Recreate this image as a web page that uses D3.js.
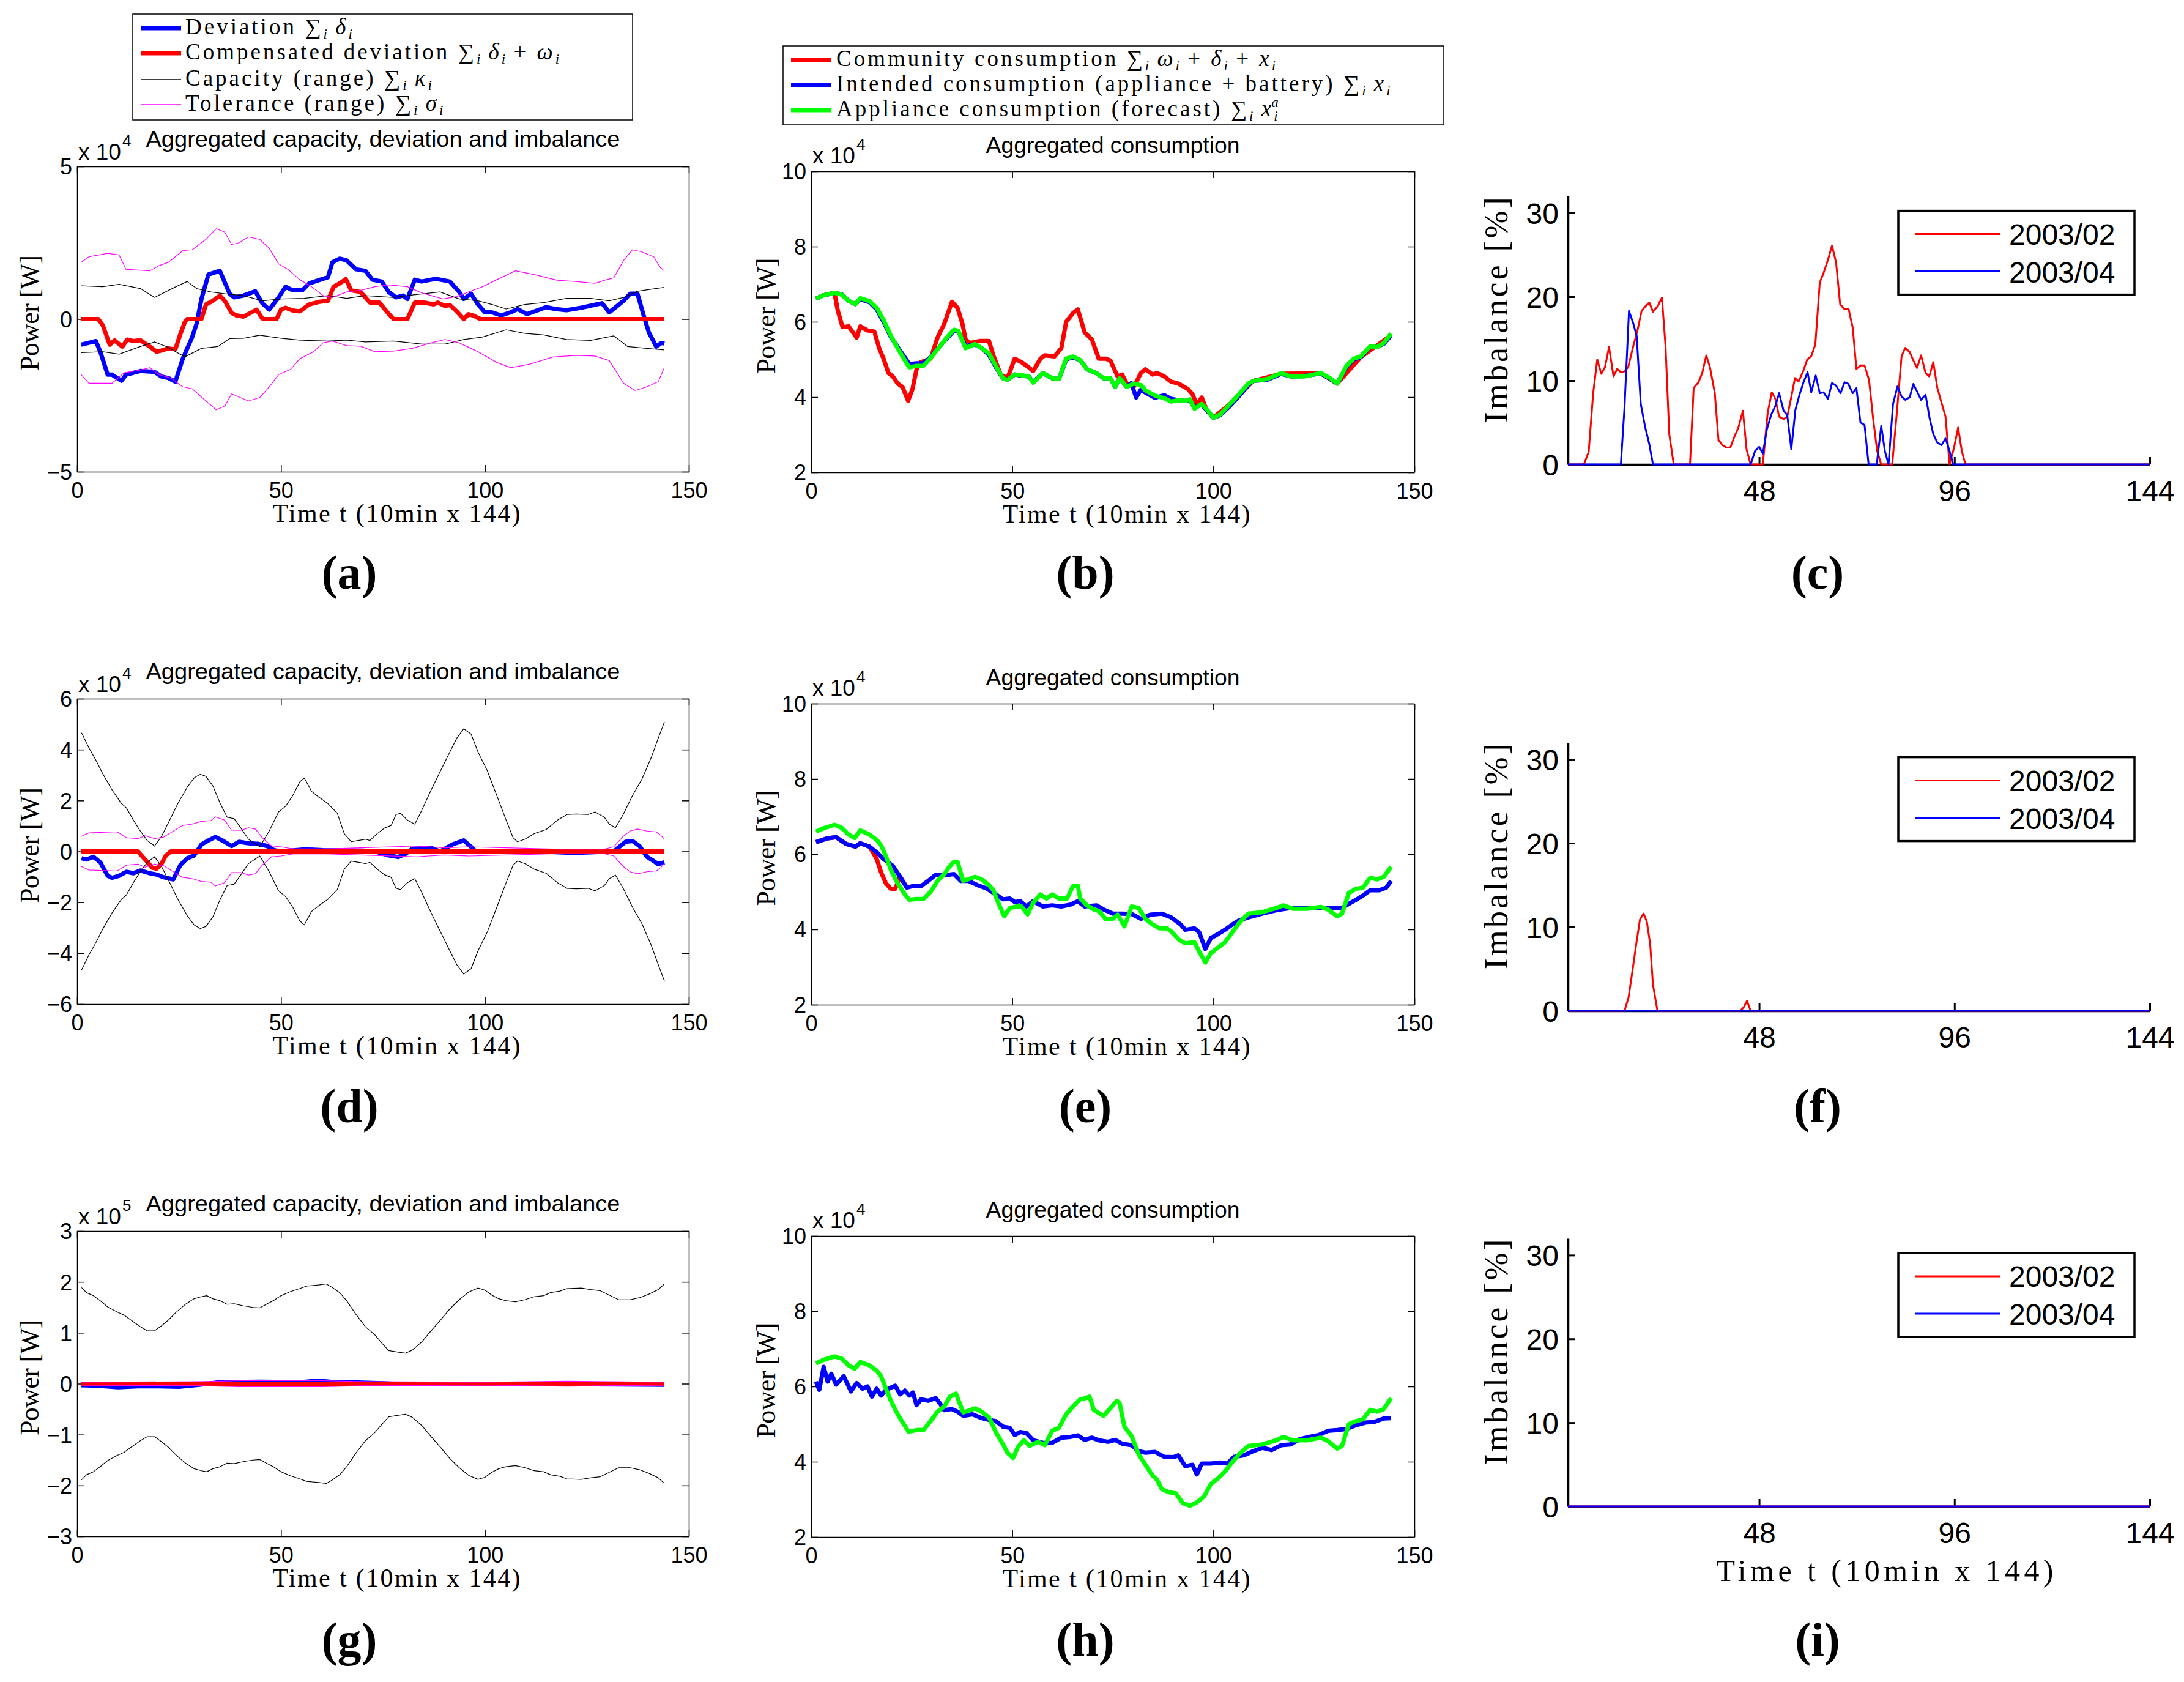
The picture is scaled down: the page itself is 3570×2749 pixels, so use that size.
<!DOCTYPE html>
<html>
<head>
<meta charset="utf-8">
<script src="https://cdn.jsdelivr.net/npm/d3@7"></script>
<style>
  body { margin: 0; background: #fff; }
</style>
</head>
<body>
<div id="chart"></div>
<script>
/**
 * DATA  (time step t, value)
 * panels a/d/g and b/e/h in units of the axis multiplier (x 10^4 or x 10^5 W)
 * panels c/f/i in percent
 * */
const devA = [[1,-0.84],[4.6,-0.72],[5.7,-1.07],[7.5,-1.82],[8.6,-1.82],[9.8,-1.93],[10.9,-2.02],[12,-1.82],[15.5,-1.70],[19,-1.73],[20.7,-1.88],[22.4,-1.93],[24.1,-2.05],[25.9,-1.3],[28.2,-0.6],[29.3,-0.15],[30.5,0.66],[32.2,1.46],[35,1.58],[37.4,0.83],[38.5,0.71],[40.8,0.77],[43.7,0.91],[45.4,0.52],[47.1,0.31],[49.4,0.71],[51.1,1.06],[52.9,0.94],[55.2,0.94],[56.9,1.17],[59.2,1.27],[61.5,1.37],[62.6,1.86],[64.4,1.98],[66.1,1.92],[68.4,1.63],[70.7,1.58],[72.4,1.29],[74.7,1.23],[76.4,0.89],[78.2,0.71],[79.9,0.77],[81,0.66],[82.8,1.29],[84.5,1.23],[87.9,1.32],[91.4,1.23],[93.7,0.89],[94.8,0.66],[96.6,0.83],[98.3,0.48],[100,0.22],[101.7,0.22],[104,0.12],[106.3,0.22],[108,0.33],[110.3,0.16],[115,0.39],[117.2,0.33],[120,0.29],[123.6,0.37],[128.7,0.52],[130.5,0.22],[134,0.6],[135.6,0.83],[137.4,0.83],[139,0.08],[140.2,-0.44],[142,-0.9],[143.3,-0.78],[144,-0.8]];
const compA = [[1,0],[5.2,0],[6.3,-0.2],[8,-0.84],[9.2,-0.7],[11.1,-0.9],[12.3,-0.67],[13.8,-0.72],[15.5,-0.69],[17.8,-0.9],[19.5,-1.07],[20.7,-1.03],[22.4,-0.96],[24.1,-0.99],[25.3,-0.5],[26.4,-0.1],[27,0],[30.5,0],[31.6,0.48],[33.3,0.6],[35,0.77],[36.2,0.6],[37.9,0.2],[39.1,0.12],[40.8,0.08],[42.5,0.2],[44,0.31],[45.4,0.02],[45.9,0],[48.9,0],[50,0.31],[51.1,0.37],[52.9,0.28],[54.6,0.25],[56.9,0.48],[59.2,0.56],[61.5,0.6],[62.9,1.06],[64.4,1.17],[65.9,1.31],[67.2,0.94],[69.5,0.89],[71.8,0.54],[74.1,0.54],[75.9,0.25],[77.6,0],[81,0],[82.8,0.54],[85.1,0.54],[87.4,0.48],[88.5,0.54],[90.2,0.43],[91.4,0.46],[93.1,0.25],[94.8,0],[96,0.16],[97.1,0.12],[98.9,0],[144,0]];
const capAUp = [[1,1.09],[6.3,1.06],[10.3,1.14],[15.5,1.0],[19,0.71],[22.4,0.94],[24.7,1.09],[27,1.23],[29.3,1.0],[32.8,0.89],[36.2,0.83],[40.8,0.77],[45.4,0.6],[50,0.66],[55.7,0.68],[61.5,0.77],[66.1,0.68],[70.7,0.77],[77.6,0.71],[82.2,0.79],[89,0.89],[93.7,0.66],[98.3,0.6],[101.7,0.48],[105.2,0.33],[109.8,0.48],[114.4,0.54],[120,0.68],[125.9,0.68],[130.5,0.6],[134,0.71],[137.4,0.91],[140.8,0.98],[144,1.04]];
const capALo = [[1,-1.1],[6.3,-1.07],[10.3,-1.15],[15.5,-0.9],[19,-0.75],[22.4,-0.93],[26.4,-1.24],[30.5,-0.96],[34.5,-0.9],[37.4,-0.64],[40.8,-0.63],[44.8,-0.53],[50,-0.63],[54.6,-0.69],[61.5,-0.72],[66.1,-0.69],[70.7,-0.75],[77.6,-0.72],[84.5,-0.82],[90.2,-0.82],[94.8,-0.67],[99.4,-0.59],[105.2,-0.35],[109.8,-0.47],[114.4,-0.52],[120,-0.67],[125.9,-0.7],[131.6,-0.55],[135,-0.9],[139.7,-0.96],[144,-1.01]];
const tolAUp = [[1,1.86],[2.9,2.04],[7.5,2.15],[10.3,2.1],[12,1.63],[17.8,1.58],[20.1,1.75],[22.4,1.86],[25.9,2.24],[28.2,2.27],[31.6,2.61],[34.1,2.96],[36.2,2.85],[37.9,2.44],[39.7,2.5],[42,2.69],[44.8,2.61],[47.1,2.32],[49.4,1.81],[51.7,1.63],[54.6,1.29],[57.5,1.06],[60.3,0.77],[62.6,0.71],[66.1,0.89],[69.5,0.94],[73,1.06],[76.4,1.12],[81,1.06],[84.5,0.86],[89.7,0.66],[93.1,0.74],[96,0.89],[99.4,1.06],[102.9,1.29],[107.5,1.58],[112,1.46],[117.8,1.27],[122.4,1.23],[127,1.17],[129.3,1.27],[131.6,1.35],[134,1.92],[136.2,2.27],[138.5,2.2],[141.4,2.04],[143,1.69],[144,1.58]];
const tolALo = [[1,-1.82],[2.9,-2.1],[8.6,-2.1],[11.5,-1.76],[15.5,-1.67],[17.8,-1.59],[20.1,-1.82],[23,-1.93],[25.9,-2.22],[28.2,-2.28],[31.6,-2.68],[34.1,-2.97],[36.2,-2.85],[37.9,-2.45],[42,-2.68],[44.8,-2.57],[47.1,-2.22],[49.4,-1.82],[52.3,-1.65],[54.6,-1.3],[58,-1.07],[60.3,-0.78],[62.6,-0.72],[66.1,-0.87],[69.5,-0.89],[73,-1.07],[77.6,-1.05],[82.2,-0.96],[86.8,-0.78],[90.2,-0.67],[93.7,-0.78],[98.3,-1.07],[102.9,-1.42],[106.3,-1.59],[110.9,-1.48],[116.7,-1.24],[122.4,-1.19],[127,-1.21],[130.5,-1.36],[134,-2.1],[136.8,-2.34],[139.7,-2.22],[142.5,-2.05],[144,-1.59]];

const devD = [[1.1,-0.27],[2.3,-0.32],[4,-0.21],[5.7,-0.43],[7.5,-0.96],[8.6,-1.04],[10.3,-0.96],[12.1,-0.8],[13.8,-0.86],[15.5,-0.75],[17.8,-0.86],[19.5,-0.91],[21.3,-1.02],[23.6,-1.1],[25.3,-0.54],[27,-0.27],[28.7,-0.16],[30.5,0.27],[32.2,0.43],[33.9,0.57],[35.6,0.43],[37.9,0.21],[39.7,0.38],[42,0.32],[44.3,0.3],[46.6,0.21],[48.3,0.05],[50,0],[55.7,0.08],[60.3,0.05],[70,0.03],[73,0],[76.4,-0.16],[78.7,-0.22],[80.5,-0.1],[82.2,0.1],[86.8,0.14],[89,0],[92,0.27],[94.8,0.43],[96.6,0.18],[97.7,0],[110,0.02],[120,-0.05],[124,-0.05],[131.6,0],[132.8,0.16],[134.5,0.38],[136.2,0.41],[137.9,0.21],[139.7,-0.21],[141.4,-0.38],[142.5,-0.5],[144,-0.43]];
const compD = [[1,0],[14.9,0],[16.7,-0.32],[18.4,-0.64],[19.5,-0.68],[20.7,-0.48],[21.8,-0.16],[23,0],[144,0]];
// capacity and tolerance ranges are symmetric (+/-) in d and g
const capD = [[1.1,4.66],[2.9,4.07],[4.6,3.59],[6.3,3.05],[8.6,2.41],[10.9,1.88],[12.1,1.71],[13.8,1.23],[15.5,0.8],[17.2,0.43],[19,0.21],[20.7,0.59],[22.4,1.13],[24.7,1.88],[27,2.52],[28.7,2.89],[30.2,3.03],[31.6,2.95],[33.3,2.57],[35.1,1.88],[36.8,1.34],[38.5,1.29],[40.2,0.91],[42,0.48],[44.8,0.18],[47.1,0.8],[49.4,1.55],[51.1,1.77],[52.9,2.2],[54.6,2.73],[55.7,2.89],[57.5,2.36],[59.2,2.14],[61.5,1.88],[63.8,1.5],[65.5,0.7],[67.2,0.38],[69,0.43],[70.7,0.48],[71.8,0.43],[73.6,0.7],[75.3,0.91],[77,1.02],[78.2,1.45],[79.3,1.5],[81,1.23],[82.8,1.07],[84.5,1.61],[86.8,2.41],[89.1,3.16],[91.4,3.91],[93.1,4.45],[94.8,4.82],[96.6,4.61],[98.3,3.91],[100.6,3.16],[102.9,2.2],[105.2,1.23],[106.9,0.54],[108,0.38],[109.8,0.48],[112.1,0.7],[115,0.86],[117.8,1.23],[120.1,1.45],[122.4,1.47],[125.3,1.45],[127,1.55],[129.3,1.34],[130.5,1.07],[132,0.93],[133.9,1.45],[136.2,2.2],[138.5,2.84],[140.8,3.7],[142.5,4.45],[144,5.09]];
const tolD = [[1,0.59],[2.9,0.73],[9.8,0.77],[12.1,0.54],[14.9,0.5],[16.7,0.62],[19,0.5],[21.3,0.57],[23.6,0.8],[25.9,1.02],[28.2,1.07],[30.5,1.18],[32.8,1.21],[33.9,1.36],[36.2,1.23],[37.9,0.83],[40.2,0.83],[42,0.93],[43.7,0.88],[45.4,0.54],[47.7,0.21],[50,0.18],[52.9,0.1],[61.5,0.1],[73,0.16],[83.3,0.21],[90,0.14],[96,0.18],[105.2,0.14],[118,0.09],[129.3,0.09],[131.6,0.18],[133.9,0.59],[135.6,0.8],[137.4,0.88],[139.7,0.8],[142,0.77],[143.1,0.64],[144,0.48]];

const devG = [[1,-0.03],[5,-0.04],[10,-0.07],[15,-0.05],[20,-0.05],[25,-0.06],[30,-0.02],[35,0.03],[45,0.04],[55,0.03],[59,0.06],[62,0.04],[70,0.02],[75,0.01],[80,-0.01],[90,0],[100,0],[144,-0.02]];
const compG = [[1,0],[144,0]];
const capG = [[1.1,1.89],[2.3,1.79],[4,1.73],[5.7,1.63],[7.5,1.51],[9.8,1.41],[11.5,1.35],[13.2,1.25],[15.5,1.12],[17.2,1.04],[19,1.04],[20.7,1.14],[22.4,1.25],[24.1,1.39],[26.4,1.55],[28.7,1.67],[30.5,1.71],[31.8,1.73],[33.3,1.67],[35.1,1.63],[36.8,1.56],[38.5,1.57],[40.8,1.53],[43.1,1.5],[44.8,1.49],[46.6,1.57],[48.3,1.64],[50,1.73],[52.3,1.81],[54.6,1.87],[56.3,1.92],[59.2,1.94],[61.1,1.96],[62.6,1.89],[64.4,1.79],[66.1,1.63],[68.4,1.36],[70.7,1.12],[73,0.96],[74.7,0.8],[76.4,0.65],[78.7,0.62],[80.5,0.6],[82.2,0.66],[84.5,0.82],[86.8,1.04],[89.1,1.25],[91.4,1.47],[93.7,1.65],[96,1.8],[98.3,1.88],[100,1.84],[101.7,1.74],[103.4,1.67],[105.2,1.63],[107.5,1.61],[109.8,1.65],[112.1,1.71],[114.4,1.73],[116.1,1.79],[118.4,1.82],[120.1,1.87],[123.6,1.88],[125.9,1.85],[128.2,1.83],[130.5,1.74],[132.8,1.65],[135.6,1.65],[137.9,1.69],[140.2,1.76],[142.5,1.85],[144,1.96]];
const tolG = [[1,0.03],[30,0.04],[40,0.06],[60,0.06],[70,0.04],[100,0.03],[120,0.05],[130,0.04],[144,0.03]];

const redB = [[1.2,6.61],[2.9,6.7],[5.8,6.77],[6.6,6.3],[7.8,5.86],[9.3,5.88],[11.3,5.58],[12.2,5.88],[14,5.77],[15.7,5.74],[16.9,5.3],[18,5.02],[19.2,4.64],[20.3,4.55],[21.5,4.36],[22.7,4.27],[24.1,3.9],[25.2,4.22],[26.2,4.74],[27.3,4.93],[29.7,5.02],[31.4,5.58],[33.1,5.95],[35,6.53],[36.4,6.37],[37.6,5.95],[38.4,5.53],[39.5,5.44],[41.9,5.49],[44.2,5.49],[45.3,5.11],[47.1,4.6],[48.8,4.5],[50.6,5.02],[52.3,4.93],[54.1,4.79],[55.2,4.69],[57,5.02],[58.1,5.11],[60.5,5.08],[62.2,5.3],[63.4,6.0],[65.1,6.23],[66.3,6.33],[68,5.72],[69.8,5.53],[71.5,5.02],[73.3,5.02],[74.4,4.97],[76.2,4.55],[77.3,4.6],[78.5,4.36],[80.2,4.27],[82,4.64],[83.1,4.74],[84.9,4.6],[86,4.64],[87.8,4.55],[89.5,4.41],[91.3,4.36],[93.6,4.22],[94.8,4.08],[95.9,3.8],[97.1,3.99],[98.3,3.66],[100,3.45],[104,3.8],[109.9,4.43],[116.9,4.62],[126.7,4.63],[130.8,4.36],[136.6,5.06],[144.2,5.64]];
const blueB = [[1.2,6.61],[2.9,6.7],[5.8,6.77],[7.6,6.73],[9.3,6.56],[11,6.47],[12.2,6.6],[14.5,6.52],[16.3,6.33],[18,6.0],[19.8,5.6],[21.5,5.33],[23.3,5.05],[24.4,4.88],[26.2,4.9],[27.9,4.9],[29.7,5.06],[32,5.35],[33.7,5.56],[35.5,5.76],[36.6,5.74],[38.4,5.35],[40.7,5.4],[42.4,5.3],[44.2,5.12],[45.9,4.8],[47.7,4.5],[48.8,4.46],[50.6,4.6],[52.3,4.57],[54.1,4.55],[55.2,4.4],[57.6,4.64],[59.9,4.5],[61.6,4.48],[63.4,5.0],[65.1,5.06],[66.9,4.98],[68.6,4.74],[70.9,4.64],[72.7,4.5],[74.4,4.5],[75.6,4.27],[76.7,4.5],[78.5,4.27],[79.6,4.37],[80.8,3.99],[82,4.2],[83.1,4.12],[85.5,3.98],[87.8,4.05],[89.5,3.95],[91.3,3.92],[93,3.9],[94.2,3.92],[95.3,3.72],[97.1,3.8],[98.8,3.6],[100,3.45],[101.7,3.52],[104,3.75],[106.4,4.03],[108.7,4.32],[109.9,4.43],[113.4,4.46],[116.9,4.62],[119.2,4.55],[122.7,4.56],[126.7,4.63],[129.1,4.48],[130.8,4.36],[133.1,4.8],[134.9,5.0],[136.6,5.06],[139,5.33],[140.7,5.33],[142.4,5.42],[144.2,5.64]];
const greenB = [[1.2,6.61],[2.9,6.7],[5.8,6.77],[7.6,6.72],[9.3,6.56],[11,6.47],[12.2,6.63],[14.5,6.55],[16.3,6.37],[18,6.05],[19.8,5.63],[21.5,5.3],[23.3,4.97],[24.4,4.79],[26.2,4.83],[27.9,4.83],[29.7,5.04],[32,5.35],[33.7,5.58],[35.5,5.79],[36.6,5.76],[38.4,5.3],[40.7,5.41],[42.4,5.3],[44.2,5.16],[45.9,4.83],[47.7,4.5],[48.8,4.46],[50.6,4.6],[52.3,4.58],[54.1,4.55],[55.2,4.38],[57.6,4.64],[59.9,4.5],[61.6,4.48],[63.4,5.02],[65.1,5.08],[66.9,4.98],[68.6,4.74],[70.9,4.64],[72.7,4.5],[74.4,4.5],[75.6,4.27],[76.7,4.5],[78.5,4.27],[80.2,4.36],[82,4.32],[83.1,4.18],[85.5,4.04],[87.8,3.97],[89.5,3.88],[91.3,3.92],[93,3.9],[94.2,3.94],[95.3,3.69],[97.1,3.82],[98.8,3.62],[100,3.45],[101.7,3.54],[104,3.8],[106.4,4.08],[108.7,4.36],[109.9,4.43],[113.4,4.48],[116.9,4.64],[119.2,4.55],[122.7,4.55],[126.7,4.64],[129.1,4.5],[130.8,4.36],[133.1,4.83],[134.9,5.02],[136.6,5.08],[139,5.35],[140.7,5.33],[142.4,5.44],[144.2,5.69]];

const redE = [[1.2,6.32],[4,6.42],[6.2,6.45],[8.7,6.27],[11,6.2],[12.2,6.29],[14.5,6.2],[15.1,6.09],[16.3,5.87],[17.4,5.51],[18.6,5.22],[19.8,5.08],[20.9,5.08],[21.7,5.29],[22.1,5.4],[23.8,5.11]];
const blueE = [[1.2,6.32],[4,6.42],[6.2,6.45],[8.7,6.27],[11,6.2],[12.2,6.29],[14.5,6.2],[16.3,6.05],[18,5.87],[20.3,5.69],[22.1,5.4],[23.8,5.11],[25.6,5.16],[27.3,5.15],[29.1,5.29],[30.8,5.44],[33.1,5.44],[35.5,5.47],[37.2,5.29],[39,5.29],[41.3,5.18],[43.6,5.09],[45.9,4.93],[47.7,4.8],[49.4,4.82],[50.6,4.73],[52,4.75],[53.5,4.61],[55.2,4.75],[57.6,4.61],[59.9,4.64],[62.2,4.61],[64.5,4.66],[66.3,4.75],[68,4.61],[70.9,4.64],[72.7,4.53],[75,4.42],[77.3,4.42],[79.7,4.41],[82,4.28],[84.3,4.39],[87.2,4.42],[89.5,4.32],[91.9,4.13],[93,3.99],[95.3,4.03],[96.5,3.92],[98,3.48],[99.4,3.77],[101.2,3.88],[102.9,3.99],[104.7,4.13],[106.4,4.24],[108.7,4.32],[112.2,4.42],[115.7,4.51],[119.2,4.57],[123.8,4.57],[127.3,4.56],[132,4.57],[133.7,4.68],[135.5,4.79],[137.2,4.9],[139,5.04],[141.3,5.04],[143,5.11],[144.2,5.29]];
const greenE = [[1.2,6.6],[2.9,6.68],[5.8,6.78],[7.6,6.7],[9.3,6.52],[10.8,6.43],[12.2,6.63],[14.5,6.52],[16.3,6.38],[17.4,6.23],[18.6,5.94],[19.8,5.58],[21.5,5.22],[23.3,4.93],[24.4,4.79],[26.2,4.81],[27.9,4.81],[29.7,5.0],[31.4,5.29],[33.1,5.47],[34.3,5.66],[35.5,5.8],[36.4,5.79],[37.8,5.29],[39.5,5.35],[40.7,5.4],[42.4,5.33],[44.2,5.18],[45.3,5.04],[46.5,4.71],[48,4.35],[49.4,4.57],[51.2,4.61],[52.3,4.61],[53.8,4.4],[55.2,4.71],[57,4.93],[58.5,4.82],[59.9,4.93],[61.6,4.82],[63.6,4.82],[65.1,5.15],[66.3,5.16],[66.9,4.82],[68.6,4.64],[70.3,4.53],[71.5,4.49],[73.3,4.27],[75,4.28],[76.2,4.39],[77.9,4.08],[79.7,4.61],[81.4,4.57],[83.1,4.28],[84.9,4.13],[86.6,4.03],[88.4,4.03],[89.5,3.95],[91.3,3.74],[93,3.63],[95.3,3.66],[96.5,3.41],[98,3.12],[99.4,3.37],[101.2,3.52],[102.9,3.66],[104.7,3.92],[106.4,4.17],[108.7,4.42],[112.2,4.46],[115.7,4.57],[117.4,4.64],[119.8,4.55],[123.3,4.55],[126.7,4.6],[128.5,4.53],[130.8,4.35],[132,4.42],[133.7,4.97],[135.5,5.08],[137.2,5.11],[139,5.37],[140.7,5.33],[142.4,5.4],[144.2,5.66]];

const blueH = [[1.2,6.13],[2,5.91],[3.1,6.52],[4.1,6.13],[5,6.34],[6.2,6.05],[8.1,6.27],[9.9,5.87],[11.3,6.09],[12.8,5.94],[14,6.0],[15.1,5.73],[16.3,5.94],[17.4,5.76],[18.6,5.91],[20.9,6.02],[22.1,5.79],[23.3,5.89],[24.4,5.76],[25.3,5.84],[26.2,5.5],[27.3,5.66],[29.1,5.62],[31,5.69],[32,5.55],[33.1,5.37],[34.9,5.4],[36.4,5.33],[37.8,5.22],[40.1,5.26],[42.4,5.16],[44.2,5.11],[45.9,5.08],[47.7,4.93],[49.4,4.9],[50.6,4.71],[52,4.79],[53.5,4.76],[55.2,4.57],[57.6,4.5],[59.9,4.5],[62.2,4.64],[64.5,4.66],[66.3,4.7],[68,4.58],[69.8,4.64],[71.5,4.57],[73.8,4.53],[75.6,4.58],[77.3,4.48],[79.7,4.44],[81.4,4.28],[83.1,4.24],[85.5,4.26],[87.8,4.13],[90.1,4.12],[91.3,4.17],[93,3.88],[94.8,3.92],[95.9,3.66],[97.1,3.95],[99.4,3.95],[101.7,3.98],[103.5,3.95],[105.2,4.13],[107.6,4.17],[109.9,4.28],[112.2,4.37],[114.5,4.31],[116.9,4.44],[119.2,4.46],[121.5,4.6],[123.8,4.66],[126.2,4.71],[128.5,4.82],[130.8,4.84],[133.1,4.87],[135.5,4.97],[137.8,5.04],[140.1,5.06],[142.4,5.15],[144.2,5.16]];
const greenH = [[1.2,6.61],[2.9,6.7],[5.8,6.8],[7.6,6.74],[9.3,6.56],[10.8,6.47],[12.2,6.65],[14.5,6.56],[16.3,6.42],[17.4,6.27],[18.6,5.94],[19.8,5.62],[21.5,5.26],[23,5.0],[24.2,4.8],[26.2,4.84],[27.9,4.84],[29.7,5.08],[31.4,5.33],[33.1,5.47],[34.5,5.73],[36,5.81],[37.8,5.31],[39.5,5.37],[40.7,5.42],[42.4,5.33],[44.2,5.18],[45.9,4.79],[47.7,4.46],[48.8,4.24],[50.2,4.1],[51.4,4.39],[52.9,4.57],[54.3,4.42],[56.4,4.53],[58.1,4.44],[59.9,4.82],[61.6,4.9],[63.4,5.26],[65.1,5.47],[66.9,5.66],[68.3,5.69],[69.2,5.73],[70.3,5.37],[72.7,5.22],[74.2,5.4],[76,5.62],[76.7,5.55],[77.9,4.93],[79.7,4.68],[81.4,4.2],[83.1,3.92],[84.9,3.63],[86,3.52],[87.2,3.27],[88.9,3.19],[90.7,3.16],[92.4,2.9],[94.2,2.83],[95.9,2.92],[97.7,3.08],[99.4,3.41],[101.2,3.56],[102.9,3.74],[104.7,3.99],[106.4,4.2],[108.7,4.42],[112.2,4.46],[115.7,4.57],[117.4,4.66],[119.8,4.57],[123.3,4.57],[126.7,4.64],[128.5,4.55],[130.8,4.35],[132,4.42],[133.7,5.0],[135.5,5.08],[137.2,5.13],[139,5.38],[140.7,5.33],[142.4,5.4],[144.2,5.69]];

const imbRedC = [[1,0],[4.9,0],[6.1,1.5],[7.2,8.5],[8.2,12.5],[9.2,10.8],[10.1,11.6],[11.1,14],[12.2,10.5],[13.1,11.4],[14,11],[14.9,11.1],[15.8,11.6],[17,14],[18.1,16],[19.1,18.3],[20.1,18.9],[21,19.3],[21.9,18.2],[23.1,18.9],[24.1,19.9],[25,14],[25.9,3.6],[27,0],[31,0],[31.9,9.1],[33.1,9.8],[34,10.9],[35,13],[35.9,11.6],[37.1,8.5],[38,2.9],[39,2.3],[40,2],[40.9,2],[41.9,3.3],[42.9,4.4],[44,6.4],[44.9,1.8],[45.9,0],[48.9,0],[50.1,6.2],[51.1,8.6],[52,7.8],[52.9,5.7],[54,5.4],[54.9,5.7],[55.8,7.8],[56.8,10.3],[57.7,9.9],[58.8,11.1],[59.8,12.5],[60.8,12.9],[61.8,14.3],[62.9,21.7],[63.8,22.8],[64.9,24.4],[65.9,26.1],[66.9,24.1],[67.9,19.1],[69,18.5],[70,18.5],[71,16.3],[71.9,11.4],[72.9,11.8],[73.9,11.8],[75,10.1],[76,5.5],[77,1.6],[78,0],[80.7,0],[81.9,6.5],[83,12.9],[83.9,13.9],[85,13.4],[85.9,12.4],[86.8,11.5],[87.8,13],[88.9,10.9],[89.8,10.5],[90.8,12.2],[91.8,9.1],[92.8,7.4],[93.8,5.7],[94.8,0],[95.9,2],[96.9,4.4],[97.8,1.6],[98.7,0],[144,0]];
const imbBlueC = [[1,0],[14,0],[14.9,6.8],[16,18.3],[17,16.9],[17.9,15.3],[18.9,7.2],[20,4.4],[21,2.4],[21.9,0],[45.9,0],[47,1.6],[48,2.1],[48.9,1.3],[49.9,4.2],[51,6],[52,7],[52.9,8.5],[54,6.4],[54.9,5.9],[55.9,1.8],[56.9,6.5],[57.9,8.3],[58.9,9.8],[59.9,11],[60.8,8.6],[61.9,10.6],[62.9,8.5],[63.8,8.6],[64.9,7.8],[65.9,9.7],[66.9,9.4],[68,8.5],[69,9.8],[69.9,9.6],[71,8.5],[71.9,9.1],[72.9,5],[73.9,4.7],[74.9,0],[76.9,0],[78,4.6],[78.9,1.6],[79.8,0],[80.9,7.2],[82,9.3],[83,8.1],[83.9,7.7],[85,8],[85.9,9.6],[86.9,8.6],[87.8,7.7],[88.9,8.3],[89.9,5.5],[90.8,3.6],[91.8,2.6],[92.8,2.3],[93.8,3.1],[94.8,1.6],[95.7,0],[144,0]];
const imbRedF = [[1,0],[14.9,0],[15.9,1.6],[16.8,4.6],[17.8,8],[18.7,10.9],[19.6,11.6],[20.4,10.6],[21.2,8],[21.9,3.1],[23,0],[43.4,0],[44.3,0.5],[45,1.2],[45.9,0],[144,0]];
const imbBlueF = [[1,0],[144,0]];
const imbRedI = [[1,0],[144,0]];
const imbBlueI = [[1,0],[144,0]];

// tick values and labels
const timeTicks = [0, 50, 100, 150];
const imbTimeTicks = [48, 96, 144];
const imbTicks = [0, 10, 20, 30];
const consTicks = [2, 4, 6, 8, 10];
const panelLetters = ["(a)", "(b)", "(c)", "(d)", "(e)", "(f)", "(g)", "(h)", "(i)"];
const months = ["2003/02", "2003/04"];

// legend entries: [text piece, kind]
const legendA = [
  { color: "#0000ff", w: 7, parts: [["Deviation "], ["∑", "sum"], ["i", "sub"], [" δ", "it"], ["i", "sub"]] },
  { color: "#ff0000", w: 7, parts: [["Compensated deviation "], ["∑", "sum"], ["i", "sub"], [" δ", "it"], ["i", "sub"], [" + "], ["ω", "it"], ["i", "sub"]] },
  { color: "#000000", w: 1.5, parts: [["Capacity (range) "], ["∑", "sum"], ["i", "sub"], [" κ", "it"], ["i", "sub"]] },
  { color: "#ff00ff", w: 1.5, parts: [["Tolerance (range) "], ["∑", "sum"], ["i", "sub"], [" σ", "it"], ["i", "sub"]] }
];
const legendB = [
  { color: "#ff0000", w: 7, parts: [["Community consumption "], ["∑", "sum"], ["i", "sub"], [" ω", "it"], ["i", "sub"], [" + "], ["δ", "it"], ["i", "sub"], [" + "], ["x", "it"], ["i", "sub"]] },
  { color: "#0000ff", w: 7, parts: [["Intended consumption (appliance + battery) "], ["∑", "sum"], ["i", "sub"], [" x", "it"], ["i", "sub"]] },
  { color: "#00ff00", w: 7, parts: [["Appliance consumption (forecast) "], ["∑", "sum"], ["i", "sub"], [" x", "it"], ["i", "sub"], ["a", "sup"]] }
];

/**
 * SETUP
 * */
const width = 3570, height = 2749;
const sans = "'Liberation Sans', Arial, sans-serif";
const serif = "'Liberation Serif', 'Times New Roman', serif";

const svg = d3.select("#chart")
  .append("svg")
  .attr("width", width)
  .attr("height", height)
  .style("background", "#fff");

const minus = d => (d < 0 ? "\u2212" + Math.abs(d) : String(d));

function fit(sel, len, mode) {
  sel.attr("textLength", len).attr("lengthAdjust", mode || "spacingAndGlyphs");
  return sel;
}

function richText(g, x, y, parts, size) {
  const t = g.append("text")
    .attr("x", x).attr("y", y)
    .style("font-family", serif)
    .style("font-size", size + "px")
    .style("letter-spacing", "4px");
  let cur = 0;
  parts.forEach(([s, k]) => {
    const target = k === "sub" ? size * 0.2 : k === "sup" ? -size * 0.4 : 0;
    const ts = t.append("tspan").text(s).attr("dy", target - cur);
    cur = target;
    if (k === "sub" || k === "sup") ts.style("font-size", (size * 0.62) + "px").style("font-style", "italic").style("letter-spacing", "0px");
    if (k === "sup") ts.attr("dx", -size * 0.28);
    if (k === "it") ts.style("font-style", "italic");
  });
  return t;
}

function plotLine(g, x, y, data, color, w) {
  const line = d3.line().x(d => x(d[0])).y(d => y(d[1]));
  g.append("path")
    .attr("d", line(data))
    .attr("fill", "none")
    .attr("stroke", color)
    .attr("stroke-width", w)
    .attr("stroke-linejoin", "round");
}

/**
 * BOXED PANELS (a,b,d,e,g,h)
 * */
function boxPanel(o) {
  const x = d3.scaleLinear().domain([0, 150]).range([o.x0, o.x1]);
  const y = d3.scaleLinear().domain(o.yDomain).range([o.y1, o.y0]);
  const g = svg.append("g");

  const styleAxis = a => {
    a.select(".domain").attr("stroke", "#000").attr("stroke-width", 1.5);
    a.selectAll(".tick line").attr("stroke", "#000").attr("stroke-width", 1.5);
    a.selectAll("text").style("font-family", sans).style("font-size", "36px").attr("fill", "#000");
  };

  g.append("g").attr("transform", `translate(0,${o.y1})`)
    .call(d3.axisBottom(x).tickValues(timeTicks).tickSize(-11).tickSizeOuter(0))
    .call(styleAxis)
    .call(a => a.selectAll("text").attr("y", 43).attr("dy", null));
  g.append("g").attr("transform", `translate(0,${o.y0})`)
    .call(d3.axisTop(x).tickValues(timeTicks).tickSize(-11).tickSizeOuter(0).tickFormat(""))
    .call(styleAxis);
  g.append("g").attr("transform", `translate(${o.x0},0)`)
    .call(d3.axisLeft(y).tickValues(o.yTicks).tickSize(-11).tickSizeOuter(0).tickFormat(minus))
    .call(styleAxis)
    .call(a => a.selectAll("text").attr("x", -8).attr("dy", "0.36em"));
  g.append("g").attr("transform", `translate(${o.x1},0)`)
    .call(d3.axisRight(y).tickValues(o.yTicks).tickSize(-11).tickSizeOuter(0).tickFormat(""))
    .call(styleAxis);

  // multiplier
  const ex = g.append("text").attr("x", o.x0 + 2).attr("y", o.y0 - o.expGap)
    .style("font-family", sans).style("font-size", "37px").text("x 10");
  ex.append("tspan").attr("dy", -22).attr("dx", 2).style("font-size", "26px").text(o.exp);

  // title
  fit(g.append("text").attr("x", (o.x0 + o.x1) / 2).attr("y", o.y0 - o.titleGap)
    .attr("text-anchor", "middle")
    .style("font-family", sans).style("font-size", "37px")
    .text(o.title), o.titleLen);

  // axis labels
  fit(g.append("text").attr("x", (o.x0 + o.x1) / 2 + 22).attr("y", o.y1 + 82)
    .attr("text-anchor", "middle")
    .style("font-family", serif).style("font-size", "42px")
    .text("Time t (10min x 144)"), 405, "spacing");
  const cy = (o.y0 + o.y1) / 2 - 10;
  fit(g.append("text").attr("transform", `translate(${o.ylabX},${cy}) rotate(-90)`)
    .attr("text-anchor", "middle")
    .style("font-family", serif).style("font-size", "44px")
    .text("Power [W]"), 189, "spacing");

  o.series.forEach(s => plotLine(g, x, y, s.data, s.color, s.w));
}

/**
 * IMBALANCE PANELS (c,f,i)
 * */
function imbPanel(o) {
  const x = d3.scaleLinear().domain([1, 144]).range([2563, 3514]);
  const y = d3.scaleLinear().domain([0, 32]).range([o.yZero, o.yTop]);
  const g = svg.append("g");

  const styleAxis = a => {
    a.select(".domain").attr("stroke", "#000").attr("stroke-width", 3.5);
    a.selectAll(".tick line").attr("stroke", "#000").attr("stroke-width", 3);
    a.selectAll("text").style("font-family", sans).style("font-size", "48px").attr("fill", "#000");
  };
  g.append("g").attr("transform", `translate(0,${o.yZero})`)
    .call(d3.axisBottom(x).tickValues(imbTimeTicks).tickSize(-12).tickSizeOuter(0))
    .call(styleAxis)
    .call(a => a.selectAll("text").attr("y", 60).attr("dy", null));
  g.append("g").attr("transform", "translate(2563,0)")
    .call(d3.axisLeft(y).tickValues(imbTicks).tickSize(-11).tickSizeOuter(0))
    .call(styleAxis)
    .call(a => a.selectAll("text").attr("x", -15).attr("dy", "0.36em"));

  const cy = (o.yTop + o.yZero) / 2 - 33;
  fit(g.append("text").attr("transform", `translate(2464,${cy}) rotate(-90)`)
    .attr("text-anchor", "middle")
    .style("font-family", serif).style("font-size", "54px")
    .text("Imbalance [%]"), 369, "spacing");

  if (o.xlabel) {
    fit(g.append("text").attr("x", 3081).attr("y", 2584)
      .attr("text-anchor", "middle")
      .style("font-family", serif).style("font-size", "50px")
      .text("Time t (10min x 144)"), 551, "spacing");
  }

  plotLine(g, x, y, o.red, "#ff0000", 3);
  plotLine(g, x, y, o.blue, "#0000ff", 3);

  // legend
  const ly = o.yTop + 24;
  const lg = g.append("g");
  lg.append("rect").attr("x", 3103).attr("y", ly).attr("width", 386).attr("height", 137)
    .attr("fill", "#fff").attr("stroke", "#000").attr("stroke-width", 3.5);
  [["#ff0000", 38, 55], ["#0000ff", 99, 117]].forEach(([c, dl, dt], i) => {
    lg.append("line").attr("x1", 3131).attr("x2", 3269).attr("y1", ly + dl).attr("y2", ly + dl)
      .attr("stroke", c).attr("stroke-width", 3);
    lg.append("text").attr("x", 3284).attr("y", ly + dt)
      .style("font-family", sans).style("font-size", "48px").text(months[i]);
  });
}

/**
 * DRAW ROWS
 * */
const rowShift = 870;
const rowsA = [
  { yDomain: [-5, 5], yTicks: [-5, 0, 5], exp: "4", dev: devA, comp: compA, capUp: capAUp, capLo: capALo, tolUp: tolAUp, tolLo: tolALo },
  { yDomain: [-6, 6], yTicks: [-6, -4, -2, 0, 2, 4, 6], exp: "4", dev: devD, comp: compD, capUp: capD, capLo: capD.map(d => [d[0], -d[1]]), tolUp: tolD, tolLo: tolD.map(d => [d[0], -d[1]]) },
  { yDomain: [-3, 3], yTicks: [-3, -2, -1, 0, 1, 2, 3], exp: "5", dev: devG, comp: compG, capUp: capG, capLo: capG.map(d => [d[0], -d[1]]), tolUp: tolG, tolLo: tolG.map(d => [d[0], -d[1]]) }
];
const rowsB = [
  { red: redB, blue: blueB, green: greenB },
  { red: redE, blue: blueE, green: greenE },
  { red: null, blue: blueH, green: greenH }
];
const rowsC = [
  { yTop: 320.6, yZero: 759, red: imbRedC, blue: imbBlueC },
  { yTop: 1213.6, yZero: 1652, red: imbRedF, blue: imbBlueF },
  { yTop: 2024, yZero: 2462, red: imbRedI, blue: imbBlueI, xlabel: true }
];

rowsA.forEach((r, i) => {
  boxPanel({
    x0: 126, x1: 1126, y0: 272 + rowShift * i, y1: 771 + rowShift * i,
    yDomain: r.yDomain, yTicks: r.yTicks, exp: r.exp, expGap: 11,
    title: "Aggregated capacity, deviation and imbalance", titleGap: 32, titleLen: 775,
    ylabX: 63,
    series: [
      { data: r.dev, color: "#0000ff", w: 7 },
      { data: r.comp, color: "#ff0000", w: 7 },
      { data: r.capUp, color: "#000000", w: 1.2 },
      { data: r.capLo, color: "#000000", w: 1.2 },
      { data: r.tolUp, color: "#ff00ff", w: 1.2 },
      { data: r.tolLo, color: "#ff00ff", w: 1.2 }
    ]
  });
});

rowsB.forEach((r, i) => {
  const series = [];
  if (r.red) series.push({ data: r.red, color: "#ff0000", w: 7 });
  series.push({ data: r.blue, color: "#0000ff", w: 7 });
  series.push({ data: r.green, color: "#00ff00", w: 7 });
  boxPanel({
    x0: 1326, x1: 2312, y0: 280 + rowShift * i, y1: 772 + rowShift * i,
    yDomain: [2, 10], yTicks: consTicks, exp: "4", expGap: 13,
    title: "Aggregated consumption", titleGap: 30, titleLen: 415,
    ylabX: 1267,
    series
  });
});

rowsC.forEach(r => imbPanel(r));

/**
 * LEGENDS (top row)
 * */
function boxLegend(entries, box, rowsY, lineX, textX) {
  const g = svg.append("g");
  g.append("rect").attr("x", box[0]).attr("y", box[1]).attr("width", box[2] - box[0]).attr("height", box[3] - box[1])
    .attr("fill", "#fff").attr("stroke", "#000").attr("stroke-width", 1.5);
  entries.forEach((e, i) => {
    g.append("line").attr("x1", lineX[0]).attr("x2", lineX[1]).attr("y1", rowsY[i]).attr("y2", rowsY[i])
      .attr("stroke", e.color).attr("stroke-width", e.w);
    richText(g, textX, rowsY[i] + 10, e.parts, 37);
  });
}
boxLegend(legendA, [217, 23, 1034, 196], [46, 87, 130, 171], [230, 296], 303);
boxLegend(legendB, [1280, 75, 2360, 204], [98, 139, 180], [1293, 1359], 1367);

/**
 * PANEL LETTERS
 * */
const letterX = [571, 1774, 2971];
const letterY = [962, 1834, 2706];
panelLetters.forEach((s, i) => {
  svg.append("text")
    .attr("x", letterX[i % 3]).attr("y", letterY[Math.floor(i / 3)])
    .attr("text-anchor", "middle")
    .style("font-family", serif).style("font-size", "78px").style("font-weight", "bold")
    .text(s);
});
</script>
</body>
</html>
